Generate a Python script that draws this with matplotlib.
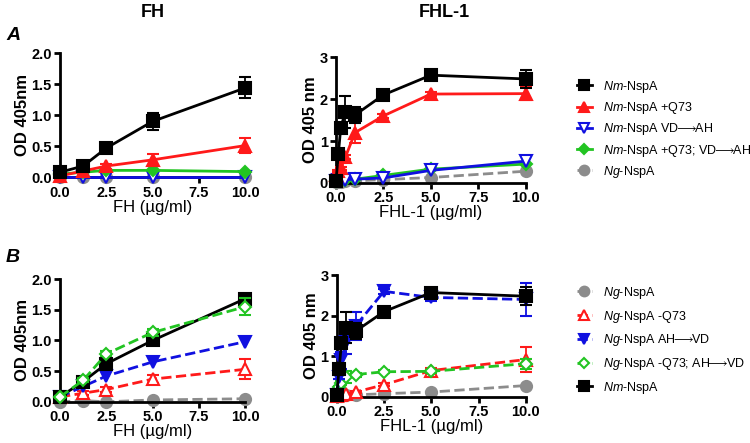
import matplotlib
matplotlib.use("Agg")
import matplotlib.pyplot as plt
from matplotlib.lines import Line2D
import numpy as np

plt.rcParams['font.family'] = ['Liberation Sans', 'DejaVu Sans']
plt.rcParams['mathtext.fontset'] = 'custom'
plt.rcParams['mathtext.it'] = 'Liberation Sans:italic'
plt.rcParams['mathtext.rm'] = 'Liberation Sans'
plt.rcParams['mathtext.fallback'] = 'stixsans'

# concentrations
fh_x = [0, 1.25, 2.5, 5, 10]
fhl_x = [0, 0.125, 0.25, 0.5, 1, 2.5, 5, 10]

# panel A, FH
a_fh_nm = [0.08, 0.18, 0.47, 0.90, 1.44]
a_fh_nm_err = [0.08, 0.03, 0.08, 0.14, 0.17]
a_fh_q73 = [0.02, 0.10, 0.18, 0.28, 0.51]
a_fh_q73_err = [0.02, 0.02, 0.04, 0.10, 0.12]
a_fh_vdah = [0.0, 0.0, 0.0, 0.0, 0.0]
a_fh_q73vdah = [0.05, 0.08, 0.11, 0.11, 0.09]
a_fh_ng = [0.0, 0.0, 0.0, 0.0, 0.0]

# panel A, FHL-1
a_fhl_nm = [0.05, 0.70, 1.32, 1.70, 1.62, 2.10, 2.57, 2.48]
a_fhl_nm_err = [0.0, 0.05, 0.05, 0.38, 0.20, 0.04, 0.04, 0.22]
a_fhl_q73 = [0.20, 0.28, 0.35, 0.62, 1.20, 1.60, 2.12, 2.13]
a_fhl_q73_err = [0.0, 0.02, 0.03, 0.05, 0.25, 0.04, 0.04, 0.15]
a_fhl_vdah = [0.05, 0.06, 0.07, 0.08, 0.09, 0.12, 0.30, 0.52]
a_fhl_q73vdah = [0.05, 0.06, 0.07, 0.08, 0.09, 0.18, 0.33, 0.45]
a_fhl_ng = [0.02, 0.03, 0.03, 0.04, 0.05, 0.08, 0.13, 0.28]

# panel B, FH
b_fh_ng = [0.0, 0.02, 0.0, 0.03, 0.05]
b_fh_q73 = [0.08, 0.14, 0.20, 0.37, 0.53]
b_fh_q73_err = [0.02, 0.03, 0.04, 0.06, 0.16]
b_fh_ahvd = [0.08, 0.25, 0.42, 0.65, 0.98]
b_fh_q73ahvd = [0.08, 0.35, 0.78, 1.13, 1.55]
b_fh_q73ahvd_err = [0.02, 0.03, 0.04, 0.05, 0.14]
b_fh_nm = [0.08, 0.33, 0.62, 1.00, 1.68]
b_fh_nm_err = [0.02, 0.03, 0.04, 0.05, 0.08]

# panel B, FHL-1
b_fhl_ng = [0.02, 0.03, 0.03, 0.04, 0.05, 0.08, 0.12, 0.28]
b_fhl_q73 = [0.03, 0.04, 0.05, 0.08, 0.12, 0.30, 0.65, 0.92]
b_fhl_q73_err = [0.0, 0.01, 0.01, 0.02, 0.03, 0.04, 0.06, 0.30]
b_fhl_ahvd = [0.05, 0.50, 0.90, 1.35, 1.75, 2.60, 2.45, 2.40]
b_fhl_ahvd_err = [0.0, 0.05, 0.20, 0.30, 0.35, 0.06, 0.08, 0.40]
b_fhl_q73ahvd = [0.10, 0.25, 0.35, 0.50, 0.55, 0.62, 0.63, 0.82]
b_fhl_q73ahvd_err = [0.0, 0.03, 0.05, 0.15, 0.05, 0.04, 0.04, 0.12]
b_fhl_nm = a_fhl_nm
b_fhl_nm_err = a_fhl_nm_err

NM = r"$\it{Nm}$"
NG = r"$\it{Ng}$"
ARROW = r"$\!\!\longrightarrow\!\!$"
labels_a = [NM + "-NspA", NM + "-NspA +Q73", NM + "-NspA VD" + ARROW + "AH",
            NM + "-NspA +Q73; VD" + ARROW + "AH", NG + "-NspA"]
labels_b = [NG + "-NspA", NG + "-NspA -Q73", NG + "-NspA AH" + ARROW + "VD",
            NG + "-NspA -Q73; AH" + ARROW + "VD", NM + "-NspA"]

BLACK = "black"
RED = "#ff1a1a"
BLUE = "#1010e0"
GREEN = "#22c422"
GREY = "#8c8c8c"


def series(ax, x, y, err, color, marker, filled, ls, ms=8, z=3):
    mfc = color if filled else "white"
    ax.errorbar(x, y, yerr=err, color=color, marker=marker, ms=ms,
                mfc=mfc, mec=color, mew=1.5, lw=2, ls=ls, capsize=4.5,
                elinewidth=1.3, capthick=1.3, zorder=z, clip_on=False)
    return Line2D([], [], color=color, marker=marker, ms=ms - 1, mfc=mfc,
                  mec=color, mew=1.5, lw=2, ls=ls)


def style(ax, xlabel, ylim, yticks, yfmt, ylabel):
    for s in ["top", "right"]:
        ax.spines[s].set_visible(False)
    for s in ["left", "bottom"]:
        ax.spines[s].set_linewidth(2)
    ax.set_xlim(0, 10)
    ax.set_ylim(*ylim)
    ax.set_xticks([0, 2.5, 5, 7.5, 10])
    ax.set_xticklabels(["0.0", "2.5", "5.0", "7.5", "10.0"])
    ax.set_yticks(yticks)
    ax.set_yticklabels([yfmt.format(v) for v in yticks])
    ax.tick_params(width=2, length=4.5, labelsize=10.5, pad=1.5)
    for t in ax.get_xticklabels() + ax.get_yticklabels():
        t.set_fontweight("bold")
    ax.set_xlabel(xlabel, fontsize=12, labelpad=0)
    ax.set_ylabel(ylabel, fontsize=12, fontweight="bold", labelpad=1)


fig = plt.figure(figsize=(7.5, 4.43), dpi=100)

ax1 = fig.add_axes([0.080, 0.600, 0.247, 0.280])
ax2 = fig.add_axes([0.448, 0.587, 0.253, 0.284])
ax3 = fig.add_axes([0.080, 0.093, 0.247, 0.277])
ax4 = fig.add_axes([0.449, 0.104, 0.252, 0.275])

# A / FH
series(ax1, fh_x, a_fh_ng, None, GREY, "o", True, "--", z=2)
series(ax1, fh_x, a_fh_vdah, None, BLUE, "v", False, "-", z=3)
series(ax1, fh_x, a_fh_q73vdah, None, GREEN, "D", True, "-", ms=6, z=4)
series(ax1, fh_x, a_fh_q73, a_fh_q73_err, RED, "^", True, "-", z=5)
series(ax1, fh_x, a_fh_nm, a_fh_nm_err, BLACK, "s", True, "-", z=6)
style(ax1, "FH (\u00b5g/ml)", (0, 2.0), [0, 0.5, 1.0, 1.5, 2.0], "{:.1f}", "OD 405nm")

# A / FHL-1
handles_a = [
    series(ax2, fhl_x, a_fhl_nm, a_fhl_nm_err, BLACK, "s", True, "-", z=6),
    series(ax2, fhl_x, a_fhl_q73, a_fhl_q73_err, RED, "^", True, "-", z=5),
    series(ax2, fhl_x, a_fhl_vdah, None, BLUE, "v", False, "-", z=4),
    series(ax2, fhl_x, a_fhl_q73vdah, None, GREEN, "D", True, "-", ms=6, z=3),
    series(ax2, fhl_x, a_fhl_ng, None, GREY, "o", True, "--", z=2),
]
style(ax2, "FHL-1 (\u00b5g/ml)", (0, 3), [0, 1, 2, 3], "{:d}", "OD 405 nm")

# B / FH
series(ax3, fh_x, b_fh_ng, None, GREY, "o", True, "--", z=2)
series(ax3, fh_x, b_fh_q73, b_fh_q73_err, RED, "^", False, "--", z=3)
series(ax3, fh_x, b_fh_ahvd, None, BLUE, "v", True, "--", z=4)
series(ax3, fh_x, b_fh_nm, b_fh_nm_err, BLACK, "s", True, "-", z=5)
series(ax3, fh_x, b_fh_q73ahvd, b_fh_q73ahvd_err, GREEN, "D", False, "--", ms=6, z=6)
style(ax3, "FH (\u00b5g/ml)", (0, 2.0), [0, 0.5, 1.0, 1.5, 2.0], "{:.1f}", "OD 405nm")

# B / FHL-1
handles_b = [
    series(ax4, fhl_x, b_fhl_ng, None, GREY, "o", True, "--", z=2),
    series(ax4, fhl_x, b_fhl_q73, b_fhl_q73_err, RED, "^", False, "--", z=3),
    series(ax4, fhl_x, b_fhl_ahvd, b_fhl_ahvd_err, BLUE, "v", True, "--", z=5),
    series(ax4, fhl_x, b_fhl_q73ahvd, b_fhl_q73ahvd_err, GREEN, "D", False, "--", ms=6, z=4),
    series(ax4, fhl_x, b_fhl_nm, b_fhl_nm_err, BLACK, "s", True, "-", z=6),
]
style(ax4, "FHL-1 (\u00b5g/ml)", (0, 3), [0, 1, 2, 3], "{:d}", "OD 405 nm")

leg_kw = dict(loc="upper left", frameon=False, fontsize=9, handlelength=1.2,
              handletextpad=0.9, borderaxespad=0, borderpad=0)
fig.legend(handles=handles_a, labels=labels_a, bbox_to_anchor=(0.769, 0.822),
           labelspacing=0.42, **leg_kw)
fig.legend(handles=handles_b, labels=labels_b, bbox_to_anchor=(0.769, 0.357),
           labelspacing=0.62, **leg_kw)

fig.text(0.203, 0.972, "FH", ha="center", va="center", fontsize=13, fontweight="bold")
fig.text(0.592, 0.972, "FHL-1", ha="center", va="center", fontsize=13, fontweight="bold")
fig.text(0.008, 0.920, "A", fontsize=14, fontweight="bold", fontstyle="italic", va="center")
fig.text(0.008, 0.418, "B", fontsize=14, fontweight="bold", fontstyle="italic", va="center")

fig.savefig("out.png", dpi=100)
